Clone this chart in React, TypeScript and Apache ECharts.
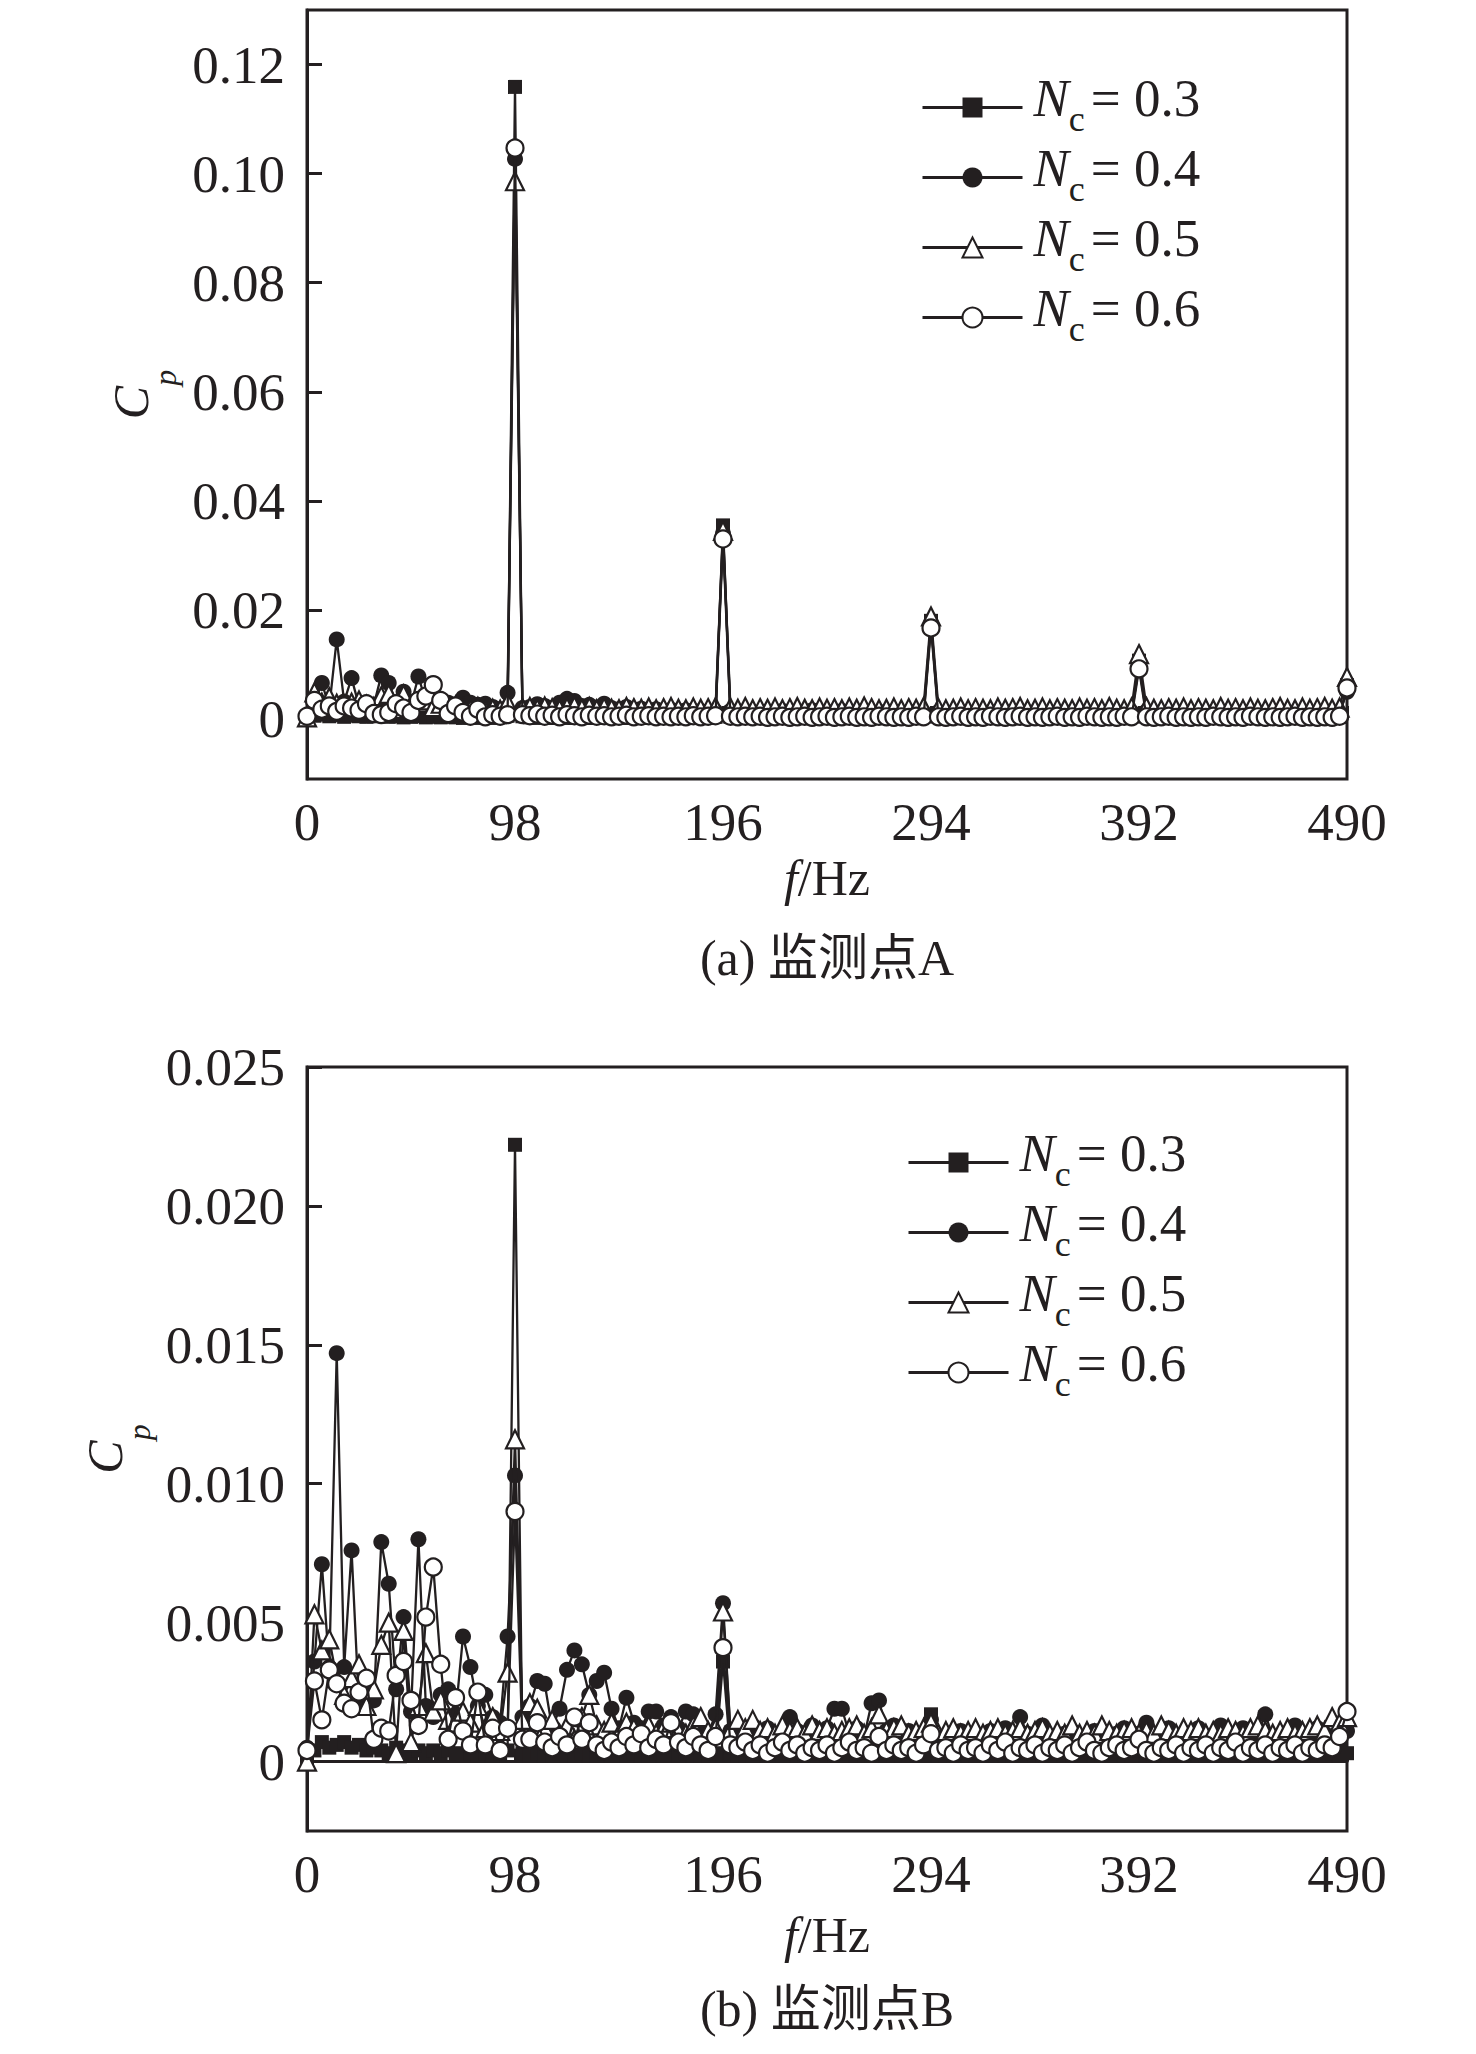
import React, { useEffect, useRef } from "react";
import * as echarts from "echarts";

// Frequency bins (Hz), 3.5 Hz resolution
const FREQ = [
  0, 3.5, 7, 10.5, 14, 17.5, 21, 24.5, 28, 31.5,
  35, 38.5, 42, 45.5, 49, 52.5, 56, 59.5, 63, 66.5,
  70, 73.5, 77, 80.5, 84, 87.5, 91, 94.5, 98, 101.5,
  105, 108.5, 112, 115.5, 119, 122.5, 126, 129.5, 133, 136.5,
  140, 143.5, 147, 150.5, 154, 157.5, 161, 164.5, 168, 171.5,
  175, 178.5, 182, 185.5, 189, 192.5, 196, 199.5, 203, 206.5,
  210, 213.5, 217, 220.5, 224, 227.5, 231, 234.5, 238, 241.5,
  245, 248.5, 252, 255.5, 259, 262.5, 266, 269.5, 273, 276.5,
  280, 283.5, 287, 290.5, 294, 297.5, 301, 304.5, 308, 311.5,
  315, 318.5, 322, 325.5, 329, 332.5, 336, 339.5, 343, 346.5,
  350, 353.5, 357, 360.5, 364, 367.5, 371, 374.5, 378, 381.5,
  385, 388.5, 392, 395.5, 399, 402.5, 406, 409.5, 413, 416.5,
  420, 423.5, 427, 430.5, 434, 437.5, 441, 444.5, 448, 451.5,
  455, 458.5, 462, 465.5, 469, 472.5, 476, 479.5, 483, 486.5,
  490,
];

// ---- (a) monitoring point A ----
const A_NC03 = [
  0.0002, 0.0006, 0.0008, 0.0005, 0.0007, 0.0004, 0.0006, 0.0005, 0.0004, 0.0005,
  0.0006, 0.0004, 0.0005, 0.0003, 0.0004, 0.0005, 0.0003, 0.0004, 0.0003, 0.0004,
  0.0003, 0.0002, 0.0003, 0.0002, 0.0003, 0.0002, 0.0003, 0.0006, 0.1159, 0.0005,
  0.0003, 0.0002, 0.0003, 0.0002, 0.0003, 0.0002, 0.0002, 0.0003, 0.0002, 0.0002,
  0.0003, 0.0002, 0.0002, 0.0003, 0.0002, 0.0002, 0.0003, 0.0002, 0.0002, 0.0003,
  0.0002, 0.0002, 0.0003, 0.0002, 0.0002, 0.0004, 0.0355, 0.0004, 0.0002, 0.0002,
  0.0003, 0.0002, 0.0002, 0.0003, 0.0002, 0.0002, 0.0002, 0.0003, 0.0002, 0.0002,
  0.0002, 0.0003, 0.0002, 0.0002, 0.0003, 0.0002, 0.0002, 0.0002, 0.0003, 0.0002,
  0.0002, 0.0002, 0.0003, 0.0004, 0.0180, 0.0004, 0.0002, 0.0002, 0.0003, 0.0002,
  0.0002, 0.0002, 0.0003, 0.0002, 0.0002, 0.0002, 0.0003, 0.0002, 0.0002, 0.0002,
  0.0003, 0.0002, 0.0002, 0.0002, 0.0003, 0.0002, 0.0002, 0.0002, 0.0003, 0.0002,
  0.0002, 0.0004, 0.0107, 0.0004, 0.0002, 0.0002, 0.0003, 0.0002, 0.0002, 0.0002,
  0.0003, 0.0002, 0.0002, 0.0002, 0.0003, 0.0002, 0.0002, 0.0002, 0.0003, 0.0002,
  0.0002, 0.0002, 0.0003, 0.0002, 0.0002, 0.0002, 0.0003, 0.0002, 0.0002, 0.0004,
  0.0062,
];
const A_NC04 = [
  0.0004, 0.0030, 0.0066, 0.0022, 0.0146, 0.0032, 0.0075, 0.0024, 0.0018, 0.0026,
  0.0080, 0.0066, 0.0030, 0.0050, 0.0026, 0.0078, 0.0032, 0.0024, 0.0020, 0.0030,
  0.0024, 0.0039, 0.0030, 0.0026, 0.0028, 0.0022, 0.0018, 0.0048, 0.1027, 0.0020,
  0.0022, 0.0027, 0.0024, 0.0020, 0.0030, 0.0037, 0.0033, 0.0024, 0.0026, 0.0021,
  0.0028, 0.0020, 0.0018, 0.0022, 0.0017, 0.0019, 0.0016, 0.0018, 0.0015, 0.0017,
  0.0015, 0.0016, 0.0014, 0.0015, 0.0013, 0.0014, 0.0340, 0.0015, 0.0013, 0.0014,
  0.0012, 0.0013, 0.0014, 0.0012, 0.0015, 0.0013, 0.0012, 0.0014, 0.0016, 0.0013,
  0.0012, 0.0014, 0.0015, 0.0013, 0.0012, 0.0014, 0.0013, 0.0012, 0.0014, 0.0013,
  0.0012, 0.0013, 0.0014, 0.0012, 0.0175, 0.0013, 0.0012, 0.0011, 0.0013, 0.0012,
  0.0011, 0.0012, 0.0013, 0.0011, 0.0012, 0.0014, 0.0012, 0.0011, 0.0013, 0.0012,
  0.0011, 0.0012, 0.0011, 0.0013, 0.0012, 0.0011, 0.0012, 0.0010, 0.0012, 0.0011,
  0.0012, 0.0013, 0.0095, 0.0014, 0.0011, 0.0012, 0.0011, 0.0013, 0.0012, 0.0011,
  0.0012, 0.0011, 0.0013, 0.0012, 0.0011, 0.0012, 0.0013, 0.0011, 0.0012, 0.0011,
  0.0012, 0.0011, 0.0013, 0.0012, 0.0011, 0.0012, 0.0011, 0.0013, 0.0012, 0.0011,
  0.0050,
];
const A_NC05 = [
  0.0003, 0.0049, 0.0030, 0.0040, 0.0028, 0.0022, 0.0030, 0.0034, 0.0026, 0.0022,
  0.0042, 0.0046, 0.0018, 0.0045, 0.0026, 0.0030, 0.0034, 0.0022, 0.0028, 0.0018,
  0.0025, 0.0020, 0.0018, 0.0022, 0.0016, 0.0019, 0.0017, 0.0030, 0.0986, 0.0020,
  0.0022, 0.0019, 0.0023, 0.0020, 0.0018, 0.0021, 0.0024, 0.0019, 0.0022, 0.0018,
  0.0021, 0.0019, 0.0018, 0.0022, 0.0020, 0.0019, 0.0021, 0.0018, 0.0020, 0.0022,
  0.0019, 0.0018, 0.0021, 0.0019, 0.0020, 0.0022, 0.0345, 0.0021, 0.0019, 0.0022,
  0.0018, 0.0020, 0.0019, 0.0021, 0.0018, 0.0020, 0.0022, 0.0019, 0.0018, 0.0021,
  0.0019, 0.0020, 0.0018, 0.0021, 0.0019, 0.0023, 0.0020, 0.0018, 0.0019, 0.0021,
  0.0018, 0.0020, 0.0019, 0.0022, 0.0188, 0.0020, 0.0018, 0.0019, 0.0021, 0.0018,
  0.0020, 0.0019, 0.0018, 0.0021, 0.0019, 0.0020, 0.0022, 0.0018, 0.0019, 0.0021,
  0.0018, 0.0020, 0.0019, 0.0018, 0.0021, 0.0019, 0.0020, 0.0018, 0.0022, 0.0019,
  0.0018, 0.0021, 0.0119, 0.0022, 0.0019, 0.0018, 0.0020, 0.0019, 0.0021, 0.0018,
  0.0020, 0.0019, 0.0018, 0.0022, 0.0019, 0.0020, 0.0018, 0.0021, 0.0019, 0.0018,
  0.0020, 0.0022, 0.0019, 0.0018, 0.0021, 0.0019, 0.0020, 0.0022, 0.0019, 0.0021,
  0.0077,
];
const A_NC06 = [
  0.0005, 0.0034, 0.0018, 0.0024, 0.0014, 0.0024, 0.0020, 0.0016, 0.0028, 0.0010,
  0.0008, 0.0012, 0.0028, 0.0020, 0.0012, 0.0034, 0.0042, 0.0063, 0.0034, 0.0010,
  0.0024, 0.0012, 0.0005, 0.0018, 0.0004, 0.0008, 0.0005, 0.0008, 0.1047, 0.0008,
  0.0006, 0.0009, 0.0005, 0.0007, 0.0004, 0.0008, 0.0006, 0.0004, 0.0007, 0.0005,
  0.0006, 0.0004, 0.0005, 0.0007, 0.0004, 0.0005, 0.0006, 0.0004, 0.0005, 0.0004,
  0.0005, 0.0004, 0.0006, 0.0004, 0.0005, 0.0006, 0.0330, 0.0005, 0.0004, 0.0005,
  0.0004, 0.0005, 0.0003, 0.0004, 0.0005, 0.0003, 0.0004, 0.0005, 0.0003, 0.0004,
  0.0005, 0.0003, 0.0004, 0.0005, 0.0003, 0.0004, 0.0003, 0.0005, 0.0004, 0.0003,
  0.0004, 0.0003, 0.0005, 0.0004, 0.0167, 0.0004, 0.0003, 0.0004, 0.0005, 0.0003,
  0.0004, 0.0003, 0.0005, 0.0004, 0.0003, 0.0004, 0.0005, 0.0003, 0.0004, 0.0003,
  0.0004, 0.0005, 0.0003, 0.0004, 0.0003, 0.0005, 0.0004, 0.0003, 0.0004, 0.0003,
  0.0005, 0.0004, 0.0092, 0.0004, 0.0003, 0.0004, 0.0005, 0.0003, 0.0004, 0.0003,
  0.0004, 0.0003, 0.0005, 0.0004, 0.0003, 0.0004, 0.0003, 0.0005, 0.0004, 0.0003,
  0.0004, 0.0003, 0.0004, 0.0005, 0.0003, 0.0004, 0.0003, 0.0004, 0.0003, 0.0005,
  0.0057,
];

// ---- (b) monitoring point B ----
const B_NC03 = [
  0.0001, 0.0004, 0.0007, 0.0005, 0.0006, 0.0007, 0.0005, 0.0006, 0.0004, 0.0005,
  0.0004, 0.0003, 0.0005, 0.0004, 0.0003, 0.0004, 0.0003, 0.0004, 0.0003, 0.0004,
  0.0003, 0.0002, 0.0003, 0.0002, 0.0003, 0.0002, 0.0003, 0.0004, 0.0222, 0.0003,
  0.0002, 0.0003, 0.0002, 0.0002, 0.0003, 0.0002, 0.0002, 0.0003, 0.0002, 0.0002,
  0.0003, 0.0002, 0.0002, 0.0002, 0.0003, 0.0002, 0.0002, 0.0003, 0.0002, 0.0002,
  0.0002, 0.0003, 0.0002, 0.0002, 0.0002, 0.0003, 0.0036, 0.0003, 0.0002, 0.0002,
  0.0002, 0.0003, 0.0002, 0.0002, 0.0002, 0.0003, 0.0002, 0.0002, 0.0002, 0.0003,
  0.0002, 0.0002, 0.0002, 0.0003, 0.0002, 0.0002, 0.0002, 0.0003, 0.0002, 0.0002,
  0.0002, 0.0002, 0.0003, 0.0002, 0.0017, 0.0002, 0.0002, 0.0002, 0.0003, 0.0002,
  0.0002, 0.0002, 0.0002, 0.0003, 0.0002, 0.0002, 0.0002, 0.0003, 0.0002, 0.0002,
  0.0002, 0.0003, 0.0002, 0.0002, 0.0002, 0.0003, 0.0002, 0.0002, 0.0002, 0.0003,
  0.0002, 0.0002, 0.0004, 0.0002, 0.0002, 0.0003, 0.0002, 0.0002, 0.0002, 0.0003,
  0.0002, 0.0002, 0.0003, 0.0002, 0.0002, 0.0002, 0.0003, 0.0002, 0.0002, 0.0002,
  0.0003, 0.0002, 0.0002, 0.0002, 0.0003, 0.0002, 0.0002, 0.0002, 0.0003, 0.0002,
  0.0003,
];
const B_NC04 = [
  0.0005, 0.0036, 0.0071, 0.0034, 0.0147, 0.0034, 0.0076, 0.0020, 0.0024, 0.0022,
  0.0079, 0.0064, 0.0026, 0.0052, 0.0018, 0.0080, 0.0020, 0.0016, 0.0024, 0.0026,
  0.0017, 0.0045, 0.0034, 0.0020, 0.0024, 0.0016, 0.0014, 0.0045, 0.0103, 0.0016,
  0.0020, 0.0029, 0.0028, 0.0012, 0.0019, 0.0033, 0.0040, 0.0035, 0.0024, 0.0029,
  0.0032, 0.0019, 0.0012, 0.0023, 0.0014, 0.0012, 0.0018, 0.0018, 0.0013, 0.0016,
  0.0012, 0.0018, 0.0017, 0.0011, 0.0010, 0.0017, 0.0057, 0.0011, 0.0009, 0.0010,
  0.0013, 0.0009, 0.0012, 0.0008, 0.0010, 0.0016, 0.0011, 0.0009, 0.0013, 0.0010,
  0.0012, 0.0019, 0.0019, 0.0010, 0.0012, 0.0009, 0.0021, 0.0022, 0.0011, 0.0013,
  0.0009, 0.0011, 0.0008, 0.0010, 0.0015, 0.0009, 0.0008, 0.0010, 0.0011, 0.0008,
  0.0009, 0.0008, 0.0011, 0.0009, 0.0012, 0.0008, 0.0016, 0.0010, 0.0009, 0.0013,
  0.0009, 0.0008, 0.0010, 0.0011, 0.0008, 0.0009, 0.0011, 0.0008, 0.0009, 0.0010,
  0.0012, 0.0008, 0.0010, 0.0014, 0.0009, 0.0008, 0.0012, 0.0009, 0.0008, 0.0010,
  0.0012, 0.0009, 0.0008, 0.0013, 0.0009, 0.0008, 0.0012, 0.0009, 0.0010, 0.0017,
  0.0009, 0.0008, 0.0010, 0.0013, 0.0009, 0.0008, 0.0012, 0.0010, 0.0009, 0.0007,
  0.0011,
];
const B_NC05 = [
  0.0000, 0.0053, 0.0040, 0.0044, 0.0030, 0.0024, 0.0030, 0.0035, 0.0020, 0.0026,
  0.0042, 0.0050, 0.0003, 0.0047, 0.0007, 0.0020, 0.0039, 0.0018, 0.0022, 0.0015,
  0.0014, 0.0018, 0.0014, 0.0020, 0.0012, 0.0016, 0.0011, 0.0032, 0.0116, 0.0015,
  0.0021, 0.0019, 0.0012, 0.0015, 0.0010, 0.0013, 0.0008, 0.0016, 0.0024, 0.0013,
  0.0011, 0.0014, 0.0010, 0.0014, 0.0012, 0.0011, 0.0013, 0.0010, 0.0012, 0.0014,
  0.0011, 0.0010, 0.0013, 0.0016, 0.0011, 0.0012, 0.0054, 0.0011, 0.0015, 0.0012,
  0.0015, 0.0011, 0.0012, 0.0010, 0.0013, 0.0011, 0.0012, 0.0010, 0.0013, 0.0011,
  0.0012, 0.0010, 0.0011, 0.0012, 0.0013, 0.0010, 0.0012, 0.0017, 0.0011, 0.0012,
  0.0013, 0.0010, 0.0011, 0.0012, 0.0014, 0.0010, 0.0011, 0.0012, 0.0010, 0.0011,
  0.0012, 0.0010, 0.0011, 0.0012, 0.0010, 0.0011, 0.0012, 0.0010, 0.0011, 0.0012,
  0.0010, 0.0011, 0.0010, 0.0013, 0.0010, 0.0011, 0.0010, 0.0013, 0.0011, 0.0010,
  0.0011, 0.0012, 0.0010, 0.0011, 0.0010, 0.0013, 0.0011, 0.0010, 0.0012, 0.0011,
  0.0012, 0.0010, 0.0011, 0.0010, 0.0012, 0.0011, 0.0010, 0.0012, 0.0013, 0.0011,
  0.0010, 0.0011, 0.0012, 0.0010, 0.0011, 0.0012, 0.0013, 0.0011, 0.0016, 0.0014,
  0.0016,
];
const B_NC06 = [
  0.0004, 0.0029, 0.0015, 0.0033, 0.0028, 0.0021, 0.0019, 0.0025, 0.0030, 0.0008,
  0.0012, 0.0011, 0.0031, 0.0036, 0.0022, 0.0013, 0.0052, 0.0070, 0.0035, 0.0008,
  0.0023, 0.0011, 0.0006, 0.0025, 0.0006, 0.0012, 0.0004, 0.0012, 0.0090, 0.0008,
  0.0008, 0.0014, 0.0007, 0.0005, 0.0009, 0.0006, 0.0016, 0.0008, 0.0014, 0.0006,
  0.0004, 0.0007, 0.0005, 0.0009, 0.0006, 0.0010, 0.0005, 0.0008, 0.0006, 0.0014,
  0.0007, 0.0005, 0.0009, 0.0006, 0.0004, 0.0009, 0.0041, 0.0006, 0.0005, 0.0007,
  0.0004, 0.0006, 0.0003, 0.0005, 0.0007, 0.0004, 0.0006, 0.0003, 0.0005, 0.0004,
  0.0006, 0.0003, 0.0005, 0.0007, 0.0004, 0.0005, 0.0003, 0.0009, 0.0004, 0.0006,
  0.0004, 0.0005, 0.0003, 0.0006, 0.0010, 0.0004, 0.0005, 0.0003, 0.0006, 0.0004,
  0.0005, 0.0003, 0.0006, 0.0004, 0.0007, 0.0003, 0.0005, 0.0004, 0.0006, 0.0003,
  0.0005, 0.0004, 0.0006, 0.0003, 0.0005, 0.0007, 0.0004, 0.0003, 0.0005, 0.0006,
  0.0004, 0.0005, 0.0008, 0.0004, 0.0003, 0.0005, 0.0004, 0.0006, 0.0003, 0.0005,
  0.0004, 0.0006, 0.0003, 0.0005, 0.0004, 0.0007, 0.0003, 0.0005, 0.0004, 0.0006,
  0.0003, 0.0005, 0.0004, 0.0006, 0.0003, 0.0005, 0.0004, 0.0006, 0.0005, 0.0009,
  0.0018,
];

const NC_LABELS = ["0.3", "0.4", "0.5", "0.6"];
const A_TICKS = [0, 0.02, 0.04, 0.06, 0.08, 0.1, 0.12];
const B_TICKS = [0, 0.005, 0.01, 0.015, 0.02, 0.025];
const CAPTIONS = ["(a) 监测点A", "(b) 监测点B"];

const INK = "#231f20";
const SERIF = '"Liberation Serif", "Times New Roman", serif';
const CAPTION_FONT = '"Liberation Serif", "Noto Sans CJK SC", serif';

const MARKS = [
  { symbol: "rect", size: 14, fill: INK },
  { symbol: "circle", size: 16, fill: INK },
  { symbol: "triangle", size: 18, fill: "#fff" },
  { symbol: "circle", size: 17, fill: "#fff" },
];

const GRIDS = [
  { left: 299, top: 2, width: 1040, height: 769 },
  { left: 299, top: 1059, width: 1040, height: 764 },
];

const LEGEND_RICH = {
  n: { fontFamily: SERIF, fontStyle: "italic", fontSize: 53, lineHeight: 54, padding: [0, 0, 20, 6], color: INK },
  s: { fontFamily: SERIF, fontSize: 36, lineHeight: 54, padding: [23, 6, 0, 0], color: INK },
  t: { fontFamily: SERIF, fontSize: 53, lineHeight: 54, padding: [0, 0, 20, 0], color: INK },
};
const YNAME_RICH = {
  c: { fontFamily: SERIF, fontStyle: "italic", fontSize: 50, lineHeight: 54, padding: [0, 0, 16, 0], color: INK },
  p: { fontFamily: SERIF, fontStyle: "italic", fontSize: 32, lineHeight: 54, padding: [52, 0, 0, 0], color: INK },
};
const XNAME_RICH = {
  f: { fontFamily: SERIF, fontStyle: "italic", fontSize: 50, lineHeight: 54, color: INK },
  h: { fontFamily: SERIF, fontSize: 50, lineHeight: 54, color: INK },
};

function buildOption() {
  const panels = [
    { data: [A_NC03, A_NC04, A_NC05, A_NC06], min: -0.011, max: 0.13, ticks: A_TICKS, digits: 2, legendLeft: 908, legendTop: 58, xGap: 72, yGap: 133, capY: 950 },
    { data: [B_NC03, B_NC04, B_NC05, B_NC06], min: -0.0025, max: 0.025, ticks: B_TICKS, digits: 3, legendLeft: 894, legendTop: 1113, xGap: 77, yGap: 133, capY: 2001 },
  ];
  const series: any[] = [];
  const legends: any[] = [];
  panels.forEach((p, k) => {
    const names: string[] = [];
    p.data.forEach((vals, j) => {
      const m = MARKS[j];
      const name = `${k === 0 ? "A" : "B"}|${NC_LABELS[j]}`;
      names.push(name);
      series.push({
        type: "line",
        name,
        xAxisIndex: k,
        yAxisIndex: k,
        data: FREQ.map((f, i) => [f, vals[i]]),
        symbol: m.symbol,
        symbolSize: m.size,
        showSymbol: true,
        showAllSymbol: true,
        lineStyle: { color: INK, width: 2.3 },
        itemStyle: { color: m.fill, borderColor: INK, borderWidth: m.fill === "#fff" ? 2.2 : 0 },
        emphasis: { disabled: true },
        silent: true,
        z: 2 + j,
      });
    });
    legends.push({
      orient: "vertical",
      left: p.legendLeft,
      top: p.legendTop,
      itemWidth: 100,
      itemHeight: 25,
      itemGap: -3,
      selectedMode: false,
      data: names,
      lineStyle: { width: 3, color: INK },
      formatter: (name: string) => `{n|N}{s|c}{t|= ${name.split("|")[1]}}`,
      textStyle: { color: INK, rich: LEGEND_RICH },
    });
  });

  return {
    animation: false,
    backgroundColor: "#fff",
    grid: GRIDS.map((g) => ({ ...g, show: true, borderColor: INK, borderWidth: 3, backgroundColor: "transparent" })),
    xAxis: panels.map((p, k) => ({
      type: "value",
      gridIndex: k,
      min: 0,
      max: 490,
      interval: 98,
      axisLine: { show: true, lineStyle: { color: INK, width: 3 } },
      axisTick: { show: true, inside: true, length: 13, lineStyle: { color: INK, width: 3 } },
      axisLabel: { fontFamily: SERIF, fontSize: 53, color: INK, margin: 16 },
      splitLine: { show: false },
      name: "{f|f}{h|/Hz}",
      nameLocation: "middle",
      nameGap: p.xGap,
      nameTextStyle: { rich: XNAME_RICH },
    })),
    yAxis: panels.map((p, k) => ({
      type: "value",
      gridIndex: k,
      min: p.min,
      max: p.max,
      axisLine: { show: true, lineStyle: { color: INK, width: 3 } },
      axisTick: { show: true, inside: true, length: 15, lineStyle: { color: INK, width: 3 }, customValues: p.ticks },
      axisLabel: {
        customValues: p.ticks,
        formatter: (v: number) => (v === 0 ? "0" : v.toFixed(p.digits)),
        fontFamily: SERIF,
        fontSize: 53,
        color: INK,
        margin: 22,
      },
      splitLine: { show: false },
      name: "{c|C}{p|p}",
      nameLocation: "middle",
      nameRotate: 90,
      nameGap: p.yGap,
      nameTextStyle: { rich: YNAME_RICH },
    })),
    legend: legends,
    series,
    graphic: CAPTIONS.map((t, k) => ({
      type: "text",
      x: 819,
      y: panels[k].capY,
      silent: true,
      style: { text: t, fontFamily: CAPTION_FONT, fontSize: 50, fill: INK, align: "center", verticalAlign: "middle" },
    })),
  };
}

export default function App() {
  const ref = useRef<HTMLDivElement>(null);
  useEffect(() => {
    if (!ref.current) return;
    const chart = echarts.init(ref.current, null, { renderer: "svg" });
    chart.setOption(buildOption() as any);
    return () => chart.dispose();
  }, []);
  return <div ref={ref} style={{ width: 1460, height: 2038 }} />;
}
